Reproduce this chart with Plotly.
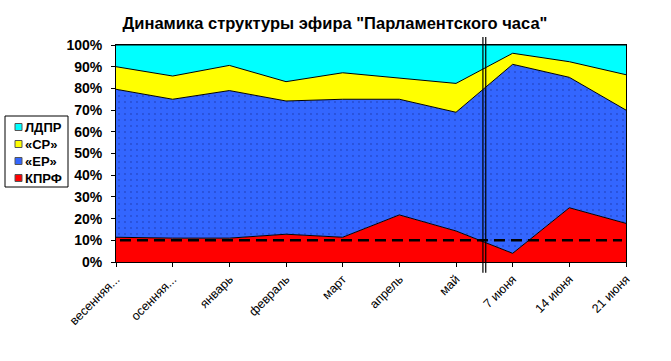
import plotly.graph_objects as go

categories = ["весенняя...", "осенняя...", "январь", "февраль", "март", "апрель", "май", "7 июня", "14 июня", "21 июня"]
kprf = [11.4, 11.0, 11.0, 12.8, 11.4, 21.7, 14.3, 4.0, 25.0, 17.8]
er = [68.2, 64.0, 68.0, 61.4, 63.6, 53.3, 54.7, 87.1, 60.1, 52.2]
sr = [10.4, 10.7, 11.6, 8.9, 12.2, 9.8, 13.3, 5.1, 7.2, 16.3]
ldpr = [10.0, 14.3, 9.4, 16.9, 12.8, 15.2, 17.7, 3.8, 7.7, 13.7]
series_names = ["КПРФ", "«ЕР»", "«СР»", "ЛДПР"]
series_colors = ["#FF0000", "#3366FF", "#FFFF00", "#00FFFF"]
threshold = 10
break_pos = 6.5
yticks = [0, 10, 20, 30, 40, 50, 60, 70, 80, 90, 100]

x = list(range(len(categories)))
FONT = "Liberation Sans, Arial, sans-serif"

# plot-area geometry in pixels (for paper coordinate conversion)
W, H = 671, 361
L, R, T, B = 116, 45, 45, 99
PW, PH = W - L - R, H - T - B


def px2paper(px, py):
    return (px - L) / PW, (H - B - py) / PH


fig = go.Figure()
values = [kprf, er, sr, ldpr]
for name, vals, col in zip(series_names, values, series_colors):
    kw = {}
    if name == "«ЕР»":
        kw["fillpattern"] = dict(shape=".", fgcolor="#1a2f9e", bgcolor=col, size=6, solidity=0.08)
    fig.add_trace(go.Scatter(
        x=x, y=vals, name=name, mode="lines", stackgroup="one", showlegend=False,
        line=dict(color="#000000", width=1), fillcolor=col, **kw))

fig.add_trace(go.Scatter(
    x=[x[0] + 0.07, x[-1] - 0.07], y=[threshold, threshold], mode="lines",
    line=dict(color="#000000", width=2.5, dash="11px,6px"), showlegend=False, hoverinfo="skip"))

shapes = []
for dx in (-0.025, 0.025):
    shapes.append(dict(type="line", xref="x", yref="paper",
                       x0=break_pos + dx, x1=break_pos + dx, y0=-0.05, y1=1.037,
                       line=dict(color="#000000", width=1.2)))

# legend box (drawn manually to match the compact original legend)
x0, y0 = px2paper(5, 116)
x1, y1 = px2paper(68, 187)
shapes.append(dict(type="rect", xref="paper", yref="paper", x0=x0, x1=x1, y0=y1, y1=y0,
                   line=dict(color="#000000", width=1), fillcolor="white", layer="above"))
annotations = []
leg_y = [127, 144, 161, 178]
for (name, col), py in zip(list(zip(series_names, series_colors))[::-1], leg_y):
    sx0, sy0 = px2paper(15, py - 3.5)
    sx1, sy1 = px2paper(22, py + 3.5)
    shapes.append(dict(type="rect", xref="paper", yref="paper", x0=sx0, x1=sx1, y0=sy1, y1=sy0,
                       line=dict(color="#555555", width=1), fillcolor=col, layer="above"))
    tx, ty = px2paper(23, py)
    annotations.append(dict(text=name, xref="paper", yref="paper", x=tx, y=ty,
                            xanchor="left", yanchor="middle", showarrow=False,
                            font=dict(size=13, family=FONT, weight="bold", color="#000000")))

fig.update_layout(
    width=W, height=H,
    margin=dict(l=L, r=R, t=T, b=B),
    paper_bgcolor="white", plot_bgcolor="white",
    font=dict(family=FONT, color="#000000"),
    title=dict(text="Динамика структуры эфира \"Парламентского часа\"",
               x=335 / W, xref="container", xanchor="center", y=1 - 23 / H, yanchor="middle",
               font=dict(size=16.5, family=FONT, weight="bold")),
    showlegend=False,
    shapes=shapes,
    annotations=annotations,
)
fig.update_xaxes(
    range=[0, 9], tickmode="array", tickvals=x, ticktext=categories,
    tickangle=-45, ticks="outside", ticklen=4, tickcolor="#000000",
    showline=True, linecolor="#000000", linewidth=1, mirror=True,
    showgrid=False, zeroline=False, tickfont=dict(size=12.5))
fig.update_yaxes(
    range=[0, 100], tickmode="array", tickvals=yticks,
    ticktext=[f"{v}%" for v in yticks],
    ticks="outside", ticklen=4, tickcolor="#000000", ticklabelstandoff=6,
    showline=True, linecolor="#000000", linewidth=1, mirror=True,
    showgrid=False, zeroline=False, tickfont=dict(size=14, weight="bold"))

fig.write_html("out.html")
